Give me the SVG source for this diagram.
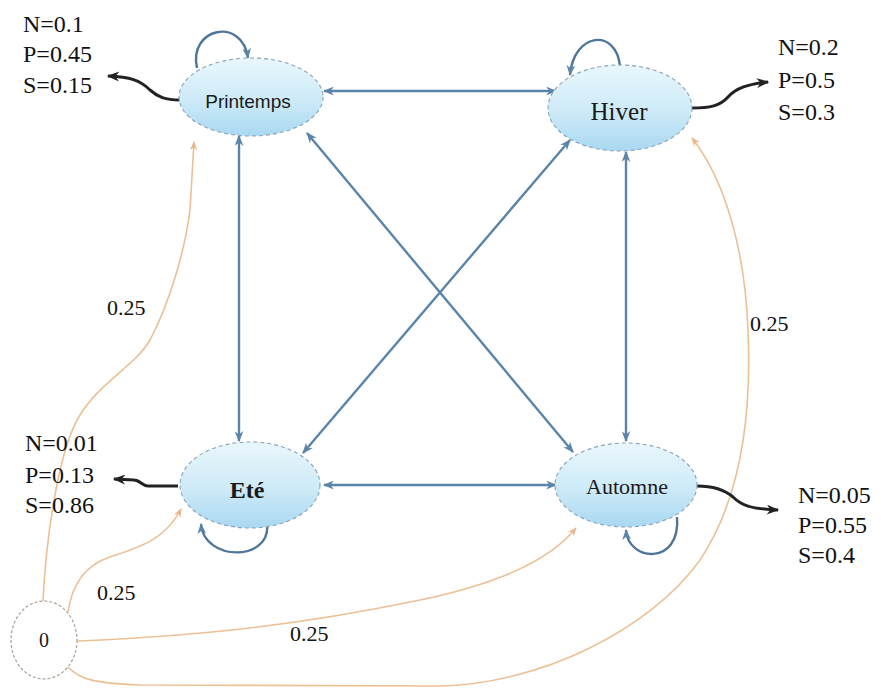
<svg xmlns="http://www.w3.org/2000/svg" width="881" height="694" viewBox="0 0 881 694">
  <defs>
    <linearGradient id="stateFill" x1="0" y1="0" x2="0" y2="1">
      <stop offset="0" stop-color="#eaf7fc"/>
      <stop offset="0.55" stop-color="#cdeaf8"/>
      <stop offset="1" stop-color="#a9d8f1"/>
    </linearGradient>
    <marker id="blueHead" viewBox="0 0 10 8" markerWidth="11" markerHeight="9" refX="9" refY="4" orient="auto-start-reverse" markerUnits="userSpaceOnUse">
      <path d="M0,0 L10,4 L0,8 L3,4 z" fill="#5b84a8"/>
    </marker>
    <marker id="orangeHead" viewBox="0 0 10 8" markerWidth="9" markerHeight="8" refX="9" refY="4" orient="auto" markerUnits="userSpaceOnUse">
      <path d="M0,0 L10,4 L0,8 L3,4 z" fill="#e8b688"/>
    </marker>
    <marker id="darkHead" viewBox="0 0 10 8" markerWidth="13" markerHeight="10" refX="9" refY="4" orient="auto" markerUnits="userSpaceOnUse">
      <path d="M0,0 L10,4 L0,8 L3,4 z" fill="#222"/>
    </marker>
  </defs>
  <style>
    .state { fill: url(#stateFill); stroke: #86a3bb; stroke-width: 1.1; stroke-dasharray: 4 3; }
    .start { fill: #ffffff; stroke: #aaa293; stroke-width: 1.2; stroke-dasharray: 3 2; }
    .trans { fill: none; stroke: #5b84a8; stroke-width: 2.4; marker-start: url(#blueHead); marker-end: url(#blueHead); }
    .loop { fill: none; stroke: #4f7699; stroke-width: 2.4; marker-end: url(#blueHead); }
    .init { fill: none; stroke: #ecc095; stroke-width: 1.6; marker-end: url(#orangeHead); }
    .emit { fill: none; stroke: #222; stroke-width: 3; marker-end: url(#darkHead); }
    .lbl { font-family: "Liberation Serif", "Times New Roman", serif; font-size: 24px; fill: #111; }
    .prob { font-family: "Liberation Serif", "Times New Roman", serif; font-size: 22px; fill: #111; }
    .name { font-family: "Liberation Serif", "Times New Roman", serif; fill: #1a1a1a; text-anchor: middle; }
  </style>
  <rect width="881" height="694" fill="#ffffff"/>

  <!-- connectors -->
  <g id="connectors">
    <!-- transitions between seasons -->
    <line class="trans" x1="324" y1="91" x2="556" y2="91"/>
    <line class="trans" x1="239" y1="136" x2="239" y2="441"/>
    <line class="trans" x1="626" y1="152" x2="626" y2="441"/>
    <line class="trans" x1="324" y1="485" x2="556" y2="485"/>
    <line class="trans" x1="307" y1="133" x2="573" y2="452"/>
    <line class="trans" x1="570" y1="140" x2="303" y2="453"/>
    <!-- self loops -->
    <path class="loop" d="M197,68 C188,28 242,16 248,58"/>
    <path class="loop" d="M620,66 C616,28 574,32 570,75"/>
    <path class="loop" d="M267,523 C272,562 204,562 201,524"/>
    <path class="loop" d="M677,517 C681,566 628,562 626,530"/>
    <!-- initial probabilities from state 0 -->
    <path class="init" d="M43,601 C46,540 58,450 80,415 C100,382 135,366 150,340 C170,302 185,250 190,210 L194,142"/>
    <path class="init" d="M68,612 C72,585 85,565 110,557 C140,547 165,540 181,509"/>
    <path class="init" d="M78,641 C200,636 300,625 420,600 C500,583 550,560 576,528"/>
    <path class="init" d="M68,667 C80,680 95,683 140,685 L440,686 C540,684 650,630 700,560 C740,500 752,420 748,330 C745,250 725,180 692,138"/>
    <!-- emission arrows -->
    <path class="emit" d="M180,100 C165,100 158,97 150,90 C140,80 130,77 108,76"/>
    <path class="emit" d="M692,108 C710,108 720,106 728,97 C736,88 748,84 768,82"/>
    <path class="emit" d="M178,486 L148,486 C142,486 140,480 134,480 L114,479"/>
    <path class="emit" d="M697,486 C715,486 725,490 733,497 C741,505 750,509 778,510"/>
  </g>

  <!-- transition probability labels -->
  <g id="init-labels">
    <text class="prob" x="107" y="315">0.25</text>
    <text class="prob" x="97" y="600">0.25</text>
    <text class="prob" x="290" y="641">0.25</text>
    <text class="prob" x="750" y="331">0.25</text>
  </g>

  <g id="printemps">
    <ellipse class="state" cx="251" cy="97" rx="72" ry="39"/>
    <text x="248" y="108" text-anchor="middle" font-family="Liberation Sans, Arial, sans-serif" font-size="19" fill="#1a1a1a">Printemps</text>
  </g>
  <g id="hiver">
    <ellipse class="state" cx="620" cy="108" rx="72" ry="43"/>
    <text class="name" x="619" y="120" font-size="25">Hiver</text>
  </g>
  <g id="ete">
    <ellipse class="state" cx="250" cy="485" rx="70" ry="43"/>
    <text class="name" x="247" y="498" font-size="24" font-weight="bold">Eté</text>
  </g>
  <g id="automne">
    <ellipse class="state" cx="626" cy="485" rx="71" ry="42"/>
    <text class="name" x="627" y="494" font-size="22">Automne</text>
  </g>
  <g id="start">
    <ellipse class="start" cx="44" cy="640" rx="33" ry="39"/>
    <text class="name" x="44" y="647" font-size="20">0</text>
  </g>

  <!-- emission probabilities -->
  <g id="emit-printemps">
    <text class="lbl" x="23" y="32">N=0.1</text>
    <text class="lbl" x="23" y="62">P=0.45</text>
    <text class="lbl" x="23" y="93">S=0.15</text>
  </g>
  <g id="emit-hiver">
    <text class="lbl" x="778" y="55">N=0.2</text>
    <text class="lbl" x="778" y="88">P=0.5</text>
    <text class="lbl" x="778" y="120">S=0.3</text>
  </g>
  <g id="emit-ete">
    <text class="lbl" x="25" y="451">N=0.01</text>
    <text class="lbl" x="25" y="483">P=0.13</text>
    <text class="lbl" x="25" y="513">S=0.86</text>
  </g>
  <g id="emit-automne">
    <text class="lbl" x="798" y="503">N=0.05</text>
    <text class="lbl" x="798" y="533">P=0.55</text>
    <text class="lbl" x="798" y="563">S=0.4</text>
  </g>
</svg>
